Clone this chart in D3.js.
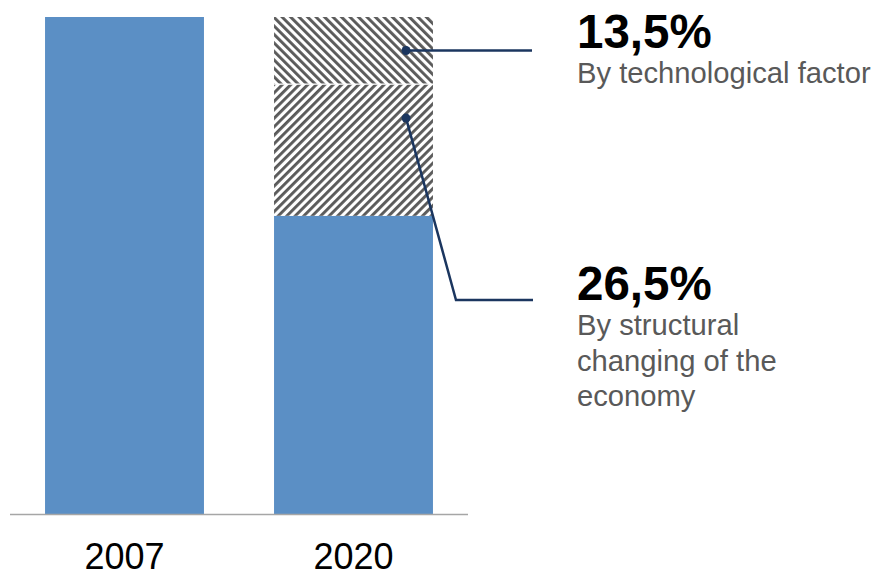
<!DOCTYPE html>
<html><head><meta charset="utf-8">
<script src="https://cdn.jsdelivr.net/npm/d3@7"></script>
<style>body{margin:0;background:#fff}svg{display:block}</style>
</head><body>
<svg id="c" width="876" height="577"></svg>
<script>
const categories = ["2007", "2020"];
const baseValues = [100, 60];
const techValues = [0, 13.5];
const structValues = [0, 26.5];
const pctLabels = ["13,5%", "26,5%"];
const descLabels = [["By technological factor"], ["By structural", "changing of the", "economy"]];

const svg = d3.select("#c");
const x = d3.scaleBand().domain(categories).range([10, 468]).paddingInner(0.306).paddingOuter(0.153);
const y = d3.scaleLinear().domain([0, 100]).range([514, 17]);

const defs = svg.append("defs");
function hatch(id, angle){
  const w = 6;
  const p = defs.append("pattern").attr("id", id).attr("patternUnits","userSpaceOnUse")
    .attr("width", w).attr("height", 10).attr("patternTransform", `rotate(${angle})`);
  p.append("rect").attr("width",w).attr("height",10).attr("fill","#fff");
  p.append("rect").attr("x",0).attr("width",2.9).attr("height",10).attr("fill","#5a5a5a");
}
hatch("hTech", -45);
hatch("hStruct", 45);

svg.selectAll("rect.base").data(categories).join("rect")
  .attr("x", d => x(d)).attr("width", x.bandwidth())
  .attr("y", (d,i) => y(baseValues[i])).attr("height", (d,i) => y(0) - y(baseValues[i]))
  .attr("fill", "#5b8fc5");
svg.selectAll("rect.struct").data(categories).join("rect")
  .filter((d,i) => structValues[i] > 0)
  .attr("x", d => x(d)).attr("width", x.bandwidth())
  .attr("y", d => { const i = categories.indexOf(d); return y(baseValues[i] + structValues[i]); })
  .attr("height", d => { const i = categories.indexOf(d); return y(baseValues[i]) - y(baseValues[i] + structValues[i]); })
  .attr("fill", "url(#hStruct)");
svg.selectAll("rect.tech").data(categories).join("rect")
  .filter((d,i) => techValues[i] > 0)
  .attr("x", d => x(d)).attr("width", x.bandwidth())
  .attr("y", d => { const i = categories.indexOf(d); return y(baseValues[i] + structValues[i] + techValues[i]); })
  .attr("height", d => { const i = categories.indexOf(d); return y(baseValues[i] + structValues[i]) - y(baseValues[i] + structValues[i] + techValues[i]); })
  .attr("fill", "url(#hTech)");
const i2 = 1;
svg.append("line").attr("x1", x(categories[i2])).attr("x2", x(categories[i2]) + x.bandwidth())
  .attr("y1", y(baseValues[i2] + structValues[i2])).attr("y2", y(baseValues[i2] + structValues[i2]))
  .attr("stroke", "#fff").attr("stroke-width", 1.2);

const ax = svg.append("g").attr("transform", `translate(0,${y(0)})`)
  .call(d3.axisBottom(x).tickSize(0).tickPadding(29.5));
ax.select(".domain").attr("stroke", "#a6a6a6").attr("stroke-width", 1.5).attr("d", "M10,0.5H468");
ax.selectAll("text").attr("font-family", "Liberation Sans, Arial, sans-serif").attr("font-size", 36).attr("fill", "#000");

const bx = x("2020");
const navy = "#1b365f";
const techMid = y(baseValues[1] + structValues[1] + techValues[1] / 2);
const structDot = y(baseValues[1] + structValues[1]) + 34;
const dotX = bx + 132;
svg.append("line").attr("x1", dotX).attr("y1", techMid).attr("x2", 532).attr("y2", techMid)
  .attr("stroke", navy).attr("stroke-width", 2.5);
svg.append("circle").attr("cx", dotX).attr("cy", techMid).attr("r", 4.5).attr("fill", navy);
svg.append("polyline").attr("points", `${dotX},${structDot} 456,300 533,300`)
  .attr("fill","none").attr("stroke", navy).attr("stroke-width", 2.5);
svg.append("circle").attr("cx", dotX).attr("cy", structDot).attr("r", 4.5).attr("fill", navy);

const tx = 577;
const pctY = [48, 300];
pctLabels.forEach((t, k) => {
  svg.append("text").attr("x", tx).attr("y", pctY[k]).text(t)
    .attr("font-family", "Liberation Sans, Arial, sans-serif").attr("font-weight", "bold")
    .attr("font-size", 47.5).attr("fill", "#000");
  descLabels[k].forEach((line, j) => {
    svg.append("text").attr("x", tx).attr("y", pctY[k] + 35 + j * 35.5).text(line)
      .attr("font-family", "Liberation Sans, Arial, sans-serif")
      .attr("font-size", 29.2).attr("fill", "#595959");
  });
});
</script>
</body></html>
